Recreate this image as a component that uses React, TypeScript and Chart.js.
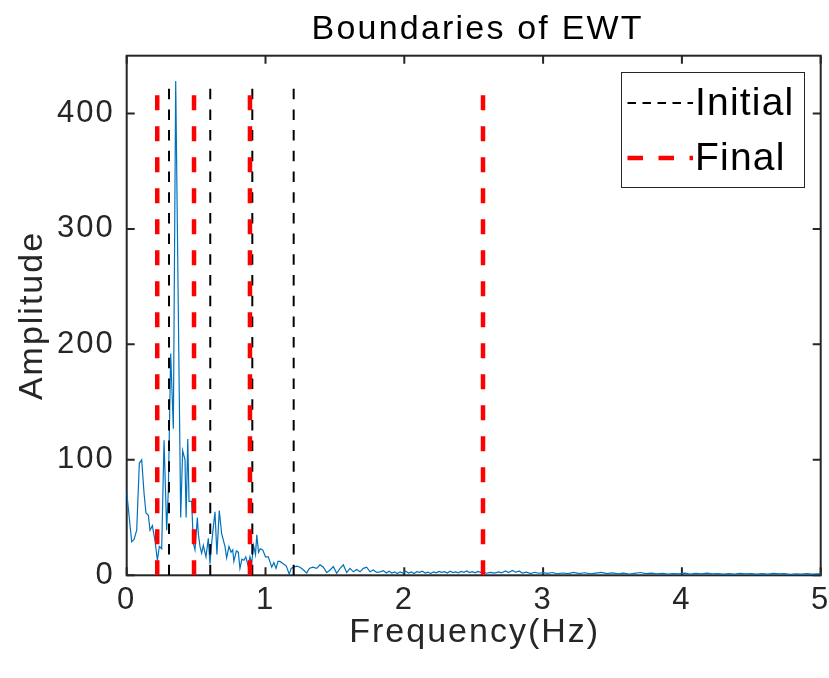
import { useEffect, useRef } from "react";
import { Chart, registerables } from "chart.js";

Chart.register(...registerables);

// Amplitude spectrum (frequency in Hz, amplitude)
const freqHz = [
  0.0, 0.036, 0.053, 0.072, 0.091, 0.108, 0.125, 0.139, 0.156, 0.168,
  0.185, 0.192, 0.204, 0.221, 0.235, 0.252, 0.269, 0.288, 0.3, 0.317,
  0.336, 0.353, 0.389, 0.403, 0.42, 0.428, 0.44, 0.449, 0.468, 0.48,
  0.492, 0.509, 0.516, 0.528, 0.54, 0.552, 0.571, 0.588, 0.6, 0.612,
  0.636, 0.65, 0.667, 0.684, 0.708, 0.72, 0.737, 0.752, 0.764, 0.772,
  0.79, 0.804, 0.816, 0.83, 0.845, 0.858, 0.875, 0.888, 0.9, 0.914,
  0.928, 0.937, 0.95, 0.962, 0.98, 1.0, 1.02, 1.045, 1.06, 1.076,
  1.09, 1.104, 1.128, 1.15, 1.171, 1.185, 1.2, 1.225, 1.249, 1.27,
  1.297, 1.316, 1.34, 1.369, 1.393, 1.417, 1.441, 1.465, 1.489, 1.513,
  1.537, 1.561, 1.585, 1.609, 1.633, 1.657, 1.681, 1.705, 1.729, 1.753,
  1.777, 1.801, 1.825, 1.85, 1.87, 1.89, 1.91, 1.93, 1.95, 1.97,
  1.99, 2.01, 2.03, 2.05, 2.07, 2.09, 2.11, 2.13, 2.15, 2.17,
  2.19, 2.21, 2.23, 2.25, 2.27, 2.29, 2.31, 2.33, 2.35, 2.37,
  2.39, 2.41, 2.43, 2.45, 2.47, 2.49, 2.51, 2.53, 2.55, 2.57,
  2.59, 2.62, 2.65, 2.68, 2.7, 2.73, 2.75, 2.78, 2.8, 2.83,
  2.85, 2.88, 2.91, 2.94, 2.97, 3.0, 3.03, 3.07, 3.1, 3.14,
  3.18, 3.22, 3.26, 3.3, 3.34, 3.38, 3.42, 3.46, 3.5, 3.54,
  3.58, 3.62, 3.66, 3.7, 3.74, 3.78, 3.82, 3.86, 3.9, 3.94,
  3.98, 4.02, 4.06, 4.1, 4.14, 4.18, 4.22, 4.26, 4.3, 4.34,
  4.38, 4.42, 4.46, 4.5, 4.54, 4.58, 4.62, 4.66, 4.7, 4.74,
  4.78, 4.82, 4.86, 4.9, 4.94, 4.98, 5.0,
];

const amplitude = [
  72, 29, 31, 39, 97, 100, 71, 54, 52, 39,
  43, 38, 30, 13, 25, 23, 117, 39, 74, 192,
  127, 428, 50, 108, 100, 50, 118, 64, 64, 28,
  22, 50, 36, 25, 19, 26, 16, 32, 10, 28,
  55, 18, 56, 36, 25, 15, 25, 20, 22, 12,
  21, 20, 6, 14, 13, 16, 8, 16, 10, 26,
  18, 35, 20, 23, 22, 16, 16, 7, 11, 6,
  12, 12, 10, 8, 1, 6, 7, 8, 7, 5,
  2, 6, 7, 6, 9, 7, 2.3, 4.6, 7.5, 1.7,
  6, 9, 2.3, 6, 3, 5, 3, 6, 7, 3,
  4.6, 2.5, 3, 4, 2, 3.5, 2, 3, 1.5, 3,
  2, 3.5, 2, 3, 1.5, 3.2, 2.5, 3.5, 2, 2.8,
  1.6, 3, 2.2, 3.4, 2.5, 3.2, 2, 3.6, 2.4, 3,
  2.1, 3.3, 2.6, 3.8, 2.4, 3.1, 2.2, 3.4, 2.5, 3,
  1.8, 2.6, 1.9, 3, 2.2, 3.8, 2.4, 4.2, 2.7, 3.5,
  2, 2.8, 1.5, 2.6, 1.8, 2.3, 1.6, 2.4, 1.3, 2.0,
  1.5, 2.5, 1.4, 2.2, 1.2, 1.9, 2.6, 1.5, 2.1, 1.3,
  1.8, 1.1, 1.7, 2.4, 1.4, 1.9, 1.2, 1.6, 1.0, 1.5,
  1.2, 1.8, 1.1, 1.6, 1.3, 1.9, 1.2, 1.5, 1.0, 1.4,
  1.1, 1.7, 1.2, 1.5, 1.0, 1.4, 1.1, 1.6, 1.2, 1.4,
  0.9, 1.3, 1.0, 1.5, 1.1, 1.3, 1.2,
];

// EWT boundary frequencies (Hz)
const initialBoundaries = [0.305, 0.602, 0.905, 1.203];
const finalBoundaries = [0.22, 0.485, 0.888, 2.567];

const xTicks = [0, 1, 2, 3, 4, 5];
const yTicks = [0, 100, 200, 300, 400];
const xLimits = [0, 5];
const yLimits = [0, 450];

const titleText = "Boundaries of EWT";
const xLabel = "Frequency(Hz)";
const yLabel = "Amplitude";
const legendLabels = ["Initial", "Final"];

const AXIS_COLOR = "#262626";
const FONT = "'Liberation Sans', Arial, Helvetica, sans-serif";
const SPECTRUM_COLOR = "#0072BD";
const INITIAL_COLOR = "#000000";
const FINAL_COLOR = "#FF0000";
const INITIAL_DASH = [10.5, 10.2];
const FINAL_DASH = [15, 16];

const W = 829;
const H = 678;
const AREA = { left: 126.7, right: 820.7, top: 55.7, bottom: 575.3 };

export default function App() {
  const canvasRef = useRef<HTMLCanvasElement | null>(null);

  useEffect(() => {
    const canvas = canvasRef.current;
    if (!canvas) return;

    const peak = Math.max(...amplitude);
    const spectrum = freqHz.map((f, i) => ({ x: f, y: amplitude[i] }));
    const boundaryLine = (f: number) => [
      { x: f, y: 0 },
      { x: f, y: peak },
    ];

    const datasets: any[] = [
      {
        label: "spectrum",
        data: spectrum,
        borderColor: SPECTRUM_COLOR,
        borderWidth: 1.2,
        showLine: true,
        pointRadius: 0,
        order: 3,
      },
      ...initialBoundaries.map((f) => ({
        label: legendLabels[0],
        data: boundaryLine(f),
        borderColor: INITIAL_COLOR,
        borderWidth: 2,
        borderDash: INITIAL_DASH,
        showLine: true,
        pointRadius: 0,
        order: 2,
      })),
      ...finalBoundaries.map((f) => ({
        label: legendLabels[1],
        data: boundaryLine(f),
        borderColor: FINAL_COLOR,
        borderWidth: 4.5,
        borderDash: FINAL_DASH,
        showLine: true,
        pointRadius: 0,
        order: 1,
      })),
    ];

    // Box, inward tick marks, title, axis labels and legend
    const framePlugin = {
      id: "frame",
      beforeDraw(chart: any) {
        (chart.ctx as any).letterSpacing = "2px";
      },
      beforeDatasetsDraw(chart: any) {
        const { ctx, chartArea: a, scales } = chart;
        ctx.save();
        ctx.strokeStyle = AXIS_COLOR;
        ctx.lineWidth = 2;
        ctx.strokeRect(a.left, a.top, a.right - a.left, a.bottom - a.top);
        const tl = 8;
        ctx.beginPath();
        xTicks.forEach((v) => {
          const px = scales.x.getPixelForValue(v);
          ctx.moveTo(px, a.bottom);
          ctx.lineTo(px, a.bottom - tl);
          ctx.moveTo(px, a.top);
          ctx.lineTo(px, a.top + tl);
        });
        yTicks.forEach((v) => {
          const py = scales.y.getPixelForValue(v);
          ctx.moveTo(a.left, py);
          ctx.lineTo(a.left + tl, py);
          ctx.moveTo(a.right, py);
          ctx.lineTo(a.right - tl, py);
        });
        ctx.stroke();
        ctx.restore();
      },
      afterDraw(chart: any) {
        const { ctx, chartArea: a } = chart;
        ctx.save();
        ctx.letterSpacing = "2.2px";
        ctx.fillStyle = "#000000";
        ctx.textAlign = "center";
        ctx.textBaseline = "alphabetic";
        ctx.font = `34px ${FONT}`;
        ctx.fillText(titleText, (a.left + a.right) / 2 + 4, 39);

        ctx.letterSpacing = "2px";
        ctx.fillStyle = AXIS_COLOR;
        ctx.font = `34px ${FONT}`;
        ctx.fillText(xLabel, (a.left + a.right) / 2 + 1, 642);
        ctx.save();
        ctx.translate(42, (a.top + a.bottom) / 2);
        ctx.rotate(-Math.PI / 2);
        ctx.fillText(yLabel, 0, 0);
        ctx.restore();

        // legend
        const box = { l: 621, t: 72, r: 805, b: 188 };
        ctx.fillStyle = "#ffffff";
        ctx.fillRect(box.l, box.t, box.r - box.l, box.b - box.t);
        ctx.strokeStyle = AXIS_COLOR;
        ctx.lineWidth = 1;
        ctx.strokeRect(box.l + 0.5, box.t + 0.5, box.r - box.l - 1, box.b - box.t - 1);
        const rows = [
          { y: 103, color: INITIAL_COLOR, width: 2, dash: [8.5, 6.5], label: legendLabels[0] },
          { y: 158, color: FINAL_COLOR, width: 4.5, dash: [15.5, 15.5], label: legendLabels[1] },
        ];
        ctx.letterSpacing = "1.2px";
        rows.forEach((r) => {
          ctx.beginPath();
          ctx.strokeStyle = r.color;
          ctx.lineWidth = r.width;
          ctx.setLineDash(r.dash);
          ctx.moveTo(627.5, r.y);
          ctx.lineTo(693, r.y);
          ctx.stroke();
          ctx.setLineDash([]);
          ctx.fillStyle = "#000000";
          ctx.font = `39px ${FONT}`;
          ctx.textAlign = "left";
          ctx.textBaseline = "middle";
          ctx.fillText(r.label, 695, r.y + 1);
        });
        ctx.restore();
        ctx.letterSpacing = "0px";
      },
    };

    const chart = new Chart(canvas, {
      type: "scatter",
      data: { datasets },
      options: {
        animation: false,
        responsive: false,
        maintainAspectRatio: false,
        layout: {
          padding: { left: 0, top: AREA.top, right: W - AREA.right, bottom: 0 },
        },
        plugins: {
          legend: { display: false },
          title: { display: false },
          tooltip: { enabled: false },
        },
        scales: {
          x: {
            type: "linear",
            min: xLimits[0],
            max: xLimits[1],
            grid: { display: false, drawTicks: false },
            border: { display: false },
            afterBuildTicks: (s: any) => {
              s.ticks = xTicks.map((v) => ({ value: v }));
            },
            afterFit: (s: any) => {
              s.height = H - AREA.bottom;
              s.paddingLeft = 0;
              s.paddingRight = 0;
            },
            ticks: {
              color: AXIS_COLOR,
              padding: 7,
              maxRotation: 0,
              font: { family: FONT, size: 31 },
              callback: (v: any) => String(v),
            },
          },
          y: {
            type: "linear",
            min: yLimits[0],
            max: yLimits[1],
            grid: { display: false, drawTicks: false },
            border: { display: false },
            afterBuildTicks: (s: any) => {
              s.ticks = yTicks.map((v) => ({ value: v }));
            },
            afterFit: (s: any) => {
              s.width = AREA.left;
              s.paddingTop = 0;
              s.paddingBottom = 0;
            },
            ticks: {
              color: AXIS_COLOR,
              padding: 12,
              font: { family: FONT, size: 31 },
              callback: (v: any) => String(v),
            },
          },
        },
      },
      plugins: [framePlugin],
    });

    return () => chart.destroy();
  }, []);

  return (
    <div style={{ position: "fixed", left: 0, top: 0, width: W, height: H, background: "#ffffff" }}>
      <canvas ref={canvasRef} width={W} height={H} style={{ display: "block", width: W, height: H }} />
    </div>
  );
}
